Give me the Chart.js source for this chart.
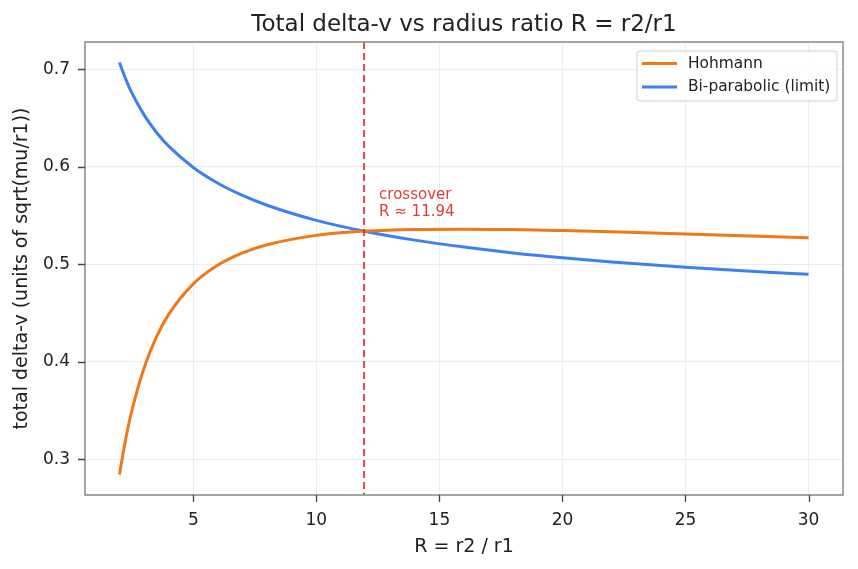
<!DOCTYPE html>
<html>
<head>
<meta charset="utf-8">
<script src="https://cdn.jsdelivr.net/npm/chart.js@4/dist/chart.umd.min.js"></script>
<style>
  html, body { margin: 0; padding: 0; background: #fff; }
  #wrap { width: 858px; height: 569px; }
</style>
</head>
<body>
<div id="wrap"><canvas id="dv"></canvas></div>
<script>
// radius ratio samples
const ratios = [2, 2.25, 2.5, 3, 3.5, 4, 5, 6, 7, 8, 10, 12, 14, 16, 18, 20, 22, 25, 28, 30];
const hohmann = [0.2845, 0.3204, 0.3496, 0.3938, 0.4254, 0.4487, 0.4800, 0.4993, 0.5119, 0.5202,
  0.5298, 0.5342, 0.5359, 0.5362, 0.5357, 0.5347, 0.5335, 0.5313, 0.5290, 0.5274];
const biParabolic = [0.7071, 0.6904, 0.6762, 0.6534, 0.6356, 0.6213, 0.5995, 0.5833, 0.5708, 0.5607,
  0.5452, 0.5338, 0.5249, 0.5178, 0.5118, 0.5068, 0.5025, 0.4971, 0.4925, 0.4898];
const xTicks = [5, 10, 15, 20, 25, 30];
const yTicks = [0.3, 0.4, 0.5, 0.6, 0.7];
const crossoverR = 11.94;

const FONT = "'DejaVu Sans', sans-serif";
Chart.defaults.font.family = FONT;
Chart.defaults.color = '#222';

function points(ys) {
  return ratios.map((r, i) => ({ x: r, y: ys[i] }));
}

// frame, tick marks, crossover marker, title and legend box
const extras = {
  id: 'extras',
  afterDatasetsDraw(chart) {
    const ctx = chart.ctx;
    const a = chart.chartArea;
    const xs = chart.scales.x;
    const ys = chart.scales.y;
    const px = xs.getPixelForValue(crossoverR);

    ctx.save();
    ctx.strokeStyle = 'rgba(220,40,40,0.85)';
    ctx.lineWidth = 2;
    ctx.setLineDash([7, 4]);
    ctx.beginPath();
    ctx.moveTo(px, a.top);
    ctx.lineTo(px, a.bottom);
    ctx.stroke();
    ctx.setLineDash([]);

    ctx.fillStyle = 'rgba(220,40,40,0.9)';
    ctx.font = '15px ' + FONT;
    ctx.textBaseline = 'middle';
    ctx.textAlign = 'left';
    ctx.fillText('crossover', px + 15, 195);
    ctx.fillText('R \u2248 ' + crossoverR.toFixed(2), px + 15, 212);

    // axes frame + outward tick marks
    ctx.strokeStyle = '#888';
    ctx.lineWidth = 1.5;
    ctx.strokeRect(a.left, a.top, a.right - a.left, a.bottom - a.top);
    ctx.strokeStyle = '#444';
    ctx.lineWidth = 1.3;
    ctx.beginPath();
    xTicks.forEach(v => {
      const x = Math.round(xs.getPixelForValue(v)) + 0.5;
      ctx.moveTo(x, a.bottom);
      ctx.lineTo(x, a.bottom + 7);
    });
    yTicks.forEach(v => {
      const y = Math.round(ys.getPixelForValue(v)) + 0.5;
      ctx.moveTo(a.left, y);
      ctx.lineTo(a.left - 7, y);
    });
    ctx.stroke();

    // title
    ctx.fillStyle = '#222';
    ctx.font = '23px ' + FONT;
    ctx.textAlign = 'center';
    ctx.fillText('Total delta-v vs radius ratio R = r2/r1', (a.left + a.right) / 2, 25);

    // legend
    const lx = a.right - 206, ly = a.top + 9, lw = 200, lh = 50;
    ctx.fillStyle = 'rgba(255,255,255,0.85)';
    ctx.strokeStyle = '#d0d0d0';
    ctx.lineWidth = 1;
    ctx.beginPath();
    ctx.roundRect(lx, ly, lw, lh, 3);
    ctx.fill();
    ctx.stroke();
    ctx.font = '15.4px ' + FONT;
    ctx.textAlign = 'left';
    chart.data.datasets.forEach((ds, i) => {
      const y = ly + 12.5 + i * 23.5;
      ctx.strokeStyle = ds.borderColor;
      ctx.lineWidth = 3;
      ctx.beginPath();
      ctx.moveTo(lx + 5, y);
      ctx.lineTo(lx + 40, y);
      ctx.stroke();
      ctx.fillStyle = '#222';
      ctx.fillText(ds.label, lx + 51, y);
    });
    ctx.restore();
  }
};

new Chart(document.getElementById('dv'), {
  type: 'line',
  data: {
    datasets: [
      {
        label: 'Hohmann',
        data: points(hohmann),
        borderColor: '#f07818',
        borderWidth: 3,
        pointRadius: 0,
        cubicInterpolationMode: 'monotone'
      },
      {
        label: 'Bi-parabolic (limit)',
        data: points(biParabolic),
        borderColor: '#3b82f0',
        borderWidth: 3,
        pointRadius: 0,
        cubicInterpolationMode: 'monotone'
      }
    ]
  },
  options: {
    responsive: true,
    maintainAspectRatio: false,
    animation: false,
    layout: { padding: { top: 42, right: 15, left: 0, bottom: 0 } },
    plugins: {
      legend: { display: false },
      title: { display: false },
      tooltip: { enabled: false }
    },
    scales: {
      x: {
        type: 'linear',
        min: 0.6,
        max: 31.4,
        afterBuildTicks: s => { s.ticks = xTicks.map(v => ({ value: v })); },
        afterFit: s => { s.height = 74; },
        grid: { color: '#e4eaee', lineWidth: 0.8, tickLength: 7, drawTicks: false },
        border: { display: false },
        ticks: { font: { size: 17 }, color: '#222', padding: 15, callback: v => String(v) },
        title: { display: true, text: 'R = r2 / r1', font: { size: 19 }, color: '#222', padding: { top: 4, bottom: 10.5 } }
      },
      y: {
        min: 0.2634,
        max: 0.7282,
        afterBuildTicks: s => { s.ticks = yTicks.map(v => ({ value: v })); },
        afterFit: s => { s.width = 85; },
        grid: { color: '#e4eaee', lineWidth: 0.8, tickLength: 7, drawTicks: false },
        border: { display: false },
        ticks: { font: { size: 17 }, color: '#222', padding: 15, callback: v => v.toFixed(1) },
        title: { display: true, text: 'total delta-v (units of sqrt(mu/r1))', font: { size: 19 }, color: '#222', padding: { top: 10.5, bottom: 4 } }
      }
    }
  },
  plugins: [extras]
});
</script>
</body>
</html>
